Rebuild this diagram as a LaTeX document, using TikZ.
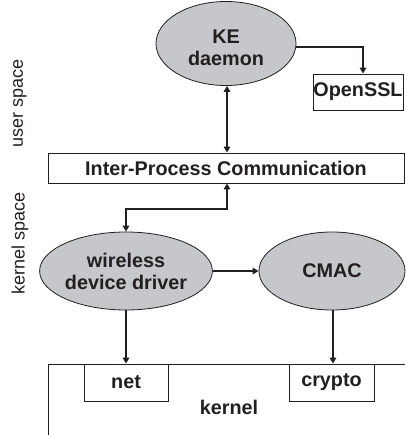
\documentclass[tikz,border=0pt]{standalone}
\usepackage{fontspec}
\setmainfont{Liberation Sans}
\usetikzlibrary{arrows.meta,shapes.geometric}
\definecolor{ellgray}{HTML}{C6C7CB}
\definecolor{ink}{HTML}{231F20}
\tikzset{
  boldtxt/.style={font=\fontsize{19.8}{22}\selectfont\bfseries, text=ink},
  proc/.style={ellipse, draw=ink, line width=0.8pt, fill=ellgray, inner sep=0pt,
    boldtxt, align=center},
  libbox/.style={rectangle, draw=ink, line width=0.8pt, fill=white, inner sep=0pt,
    boldtxt, align=center},
  conn/.style={draw=ink, line width=1.8pt, -{Triangle[length=6pt,width=6.5pt]}},
  dconn/.style={draw=ink, line width=1.8pt, {Triangle[length=6pt,width=6.5pt]}-{Triangle[length=6pt,width=6.5pt]}},
  side/.style={font=\fontsize{18}{21}\selectfont, rotate=90, text=ink},
  bord/.style={draw=ink, line width=0.8pt}
}
\begin{document}
\begin{tikzpicture}[x=1pt,y=-1pt]
\useasboundingbox (0,0) rectangle (405,435);
% kernel border
\coordinate (kl) at (48,435);
\coordinate (kc) at (48,364);
\coordinate (kr) at (405,364);
\draw[bord] (kl) -- (kc) -- (kr);
% nodes
\node[proc, minimum width=140pt, minimum height=84pt] (ke) at (226,43.5) {\rule{0pt}{23pt}KE\\daemon};
\node[libbox, minimum width=90pt, minimum height=36pt] (ssl) at (358,92) {OpenSSL};
\node[libbox, minimum width=356pt, minimum height=30pt] (ipc) at (226,168) {Inter-Process Communication};
\node[proc, minimum width=146pt, minimum height=78pt] (wdd) at (126,271) {wireless\\device driver};
\node[proc, minimum width=146pt, minimum height=78pt] (cmac) at (332,271) {CMAC};
\node[libbox, minimum width=84pt, minimum height=37pt] (net) at (126,382.5) {net};
\node[libbox, minimum width=85pt, minimum height=37pt] (crypto) at (331.5,382.5) {crypto};
\node[boldtxt] (kern) at (229,407) {kernel};
\node[side] (us) at (20,103) {user space};
\node[side] (ks) at (20,243) {kernel space};
% connectors
\draw[conn] (ke.east |- 0,47) -| (ssl.north -| 363,0);
\draw[dconn] (ke.south -| 227,0) -- (ipc.north -| 227,0);
\coordinate (bend1) at (227,209);
\coordinate (bend2) at (126,209);
\draw[dconn] (ipc.south -| 227,0) -- (bend1) -- (bend2) -- (wdd.north);
\draw[conn] (wdd.east) -- (cmac.west);
\draw[conn] (wdd.south) -- (net.north);
\draw[conn] (cmac.south -| 333,0) -- (crypto.north -| 333,0);
\end{tikzpicture}
\end{document}
